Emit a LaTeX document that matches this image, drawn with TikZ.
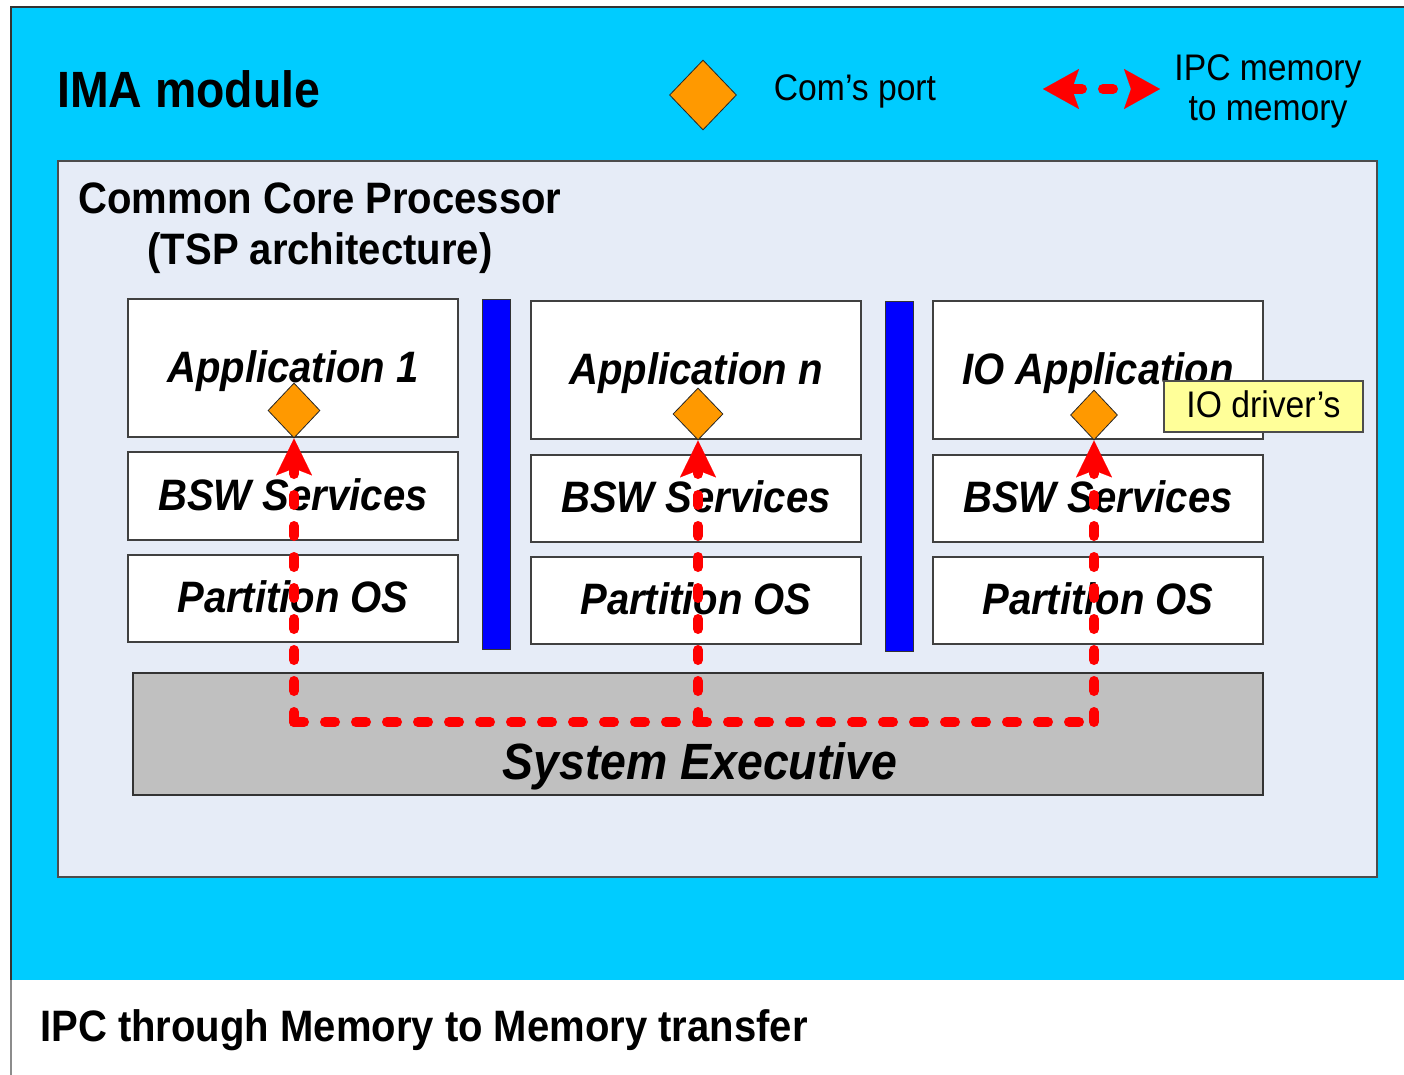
\documentclass[tikz,border=0pt]{standalone}
\usepackage{fontspec}
\setmainfont{Liberation Sans}[FakeStretch=0.91]
\usetikzlibrary{shapes.geometric,arrows.meta}
\definecolor{imacyan}{HTML}{00CCFF}
\definecolor{corebg}{HTML}{E6ECF7}
\definecolor{partblue}{HTML}{0000FF}
\definecolor{portorange}{HTML}{FF9900}
\definecolor{sysgray}{HTML}{C0C0C0}
\definecolor{drvyellow}{HTML}{FFFF99}
\definecolor{ipcred}{HTML}{FF0000}
\tikzset{
  ipctip/.tip={Stealth[length=37pt,width=36pt,inset=7pt,line width=0.1pt]},
  legtip/.tip={Stealth[length=36pt,width=40pt,inset=7pt,line width=0.1pt]}
}
\begin{document}
\begin{tikzpicture}[x=1pt,y=-1pt,
  swbox/.style={rectangle,draw=black!75,fill=white,line width=1.3pt,inner sep=0pt,
    minimum width=330pt,text height=28pt,text depth=0pt,
    font=\fontsize{44}{52}\selectfont\bfseries\itshape},
  partbar/.style={rectangle,draw=black!80,fill=partblue,line width=0.8pt,inner sep=0pt,minimum width=28pt},
  port/.style={diamond,draw=black!85,fill=portorange,line width=0.8pt,inner sep=0pt},
  ipc/.style={draw=ipcred,line width=10pt,line cap=round,dash pattern=on 10pt off 21pt},
  legendtxt/.style={inner sep=0pt,font=\fontsize{37}{44}\selectfont},
  titletxt/.style={inner sep=0pt,font=\fontsize{44}{52}\selectfont\bfseries}
]
\useasboundingbox (0,0) rectangle (1404,1075);
\fill[white] (0,0) rectangle (1404,1075);
% IMA module frame
\fill[imacyan] (11,7) rectangle (1420,980);
\draw[black!80,line width=1.2pt] (11,980) -- (11,7) -- (1420,7);
\draw[black!45,line width=1.2pt] (11,980) -- (11,1075);
\node[anchor=base west,inner sep=0pt,font=\fontsize{51}{60}\selectfont\bfseries] (ima) at (57,108) {IMA module};
% legend
\node[port,minimum width=67pt,minimum height=70pt] (lport) at (703,95) {};
\node[legendtxt,anchor=base] (lporttxt) at (855,101) {Com’s port};
\coordinate (la) at (1043,89);
\coordinate (lb) at (1160,89);
\draw[ipc,{legtip}-{legtip}] (la) -- (lb);
\node[legendtxt,anchor=base] (lipc1) at (1268,81) {IPC memory};
\node[legendtxt,anchor=base] (lipc2) at (1268,121) {to memory};
% core processor
\node[rectangle,draw=black!70,fill=corebg,line width=1.2pt,inner sep=0pt,
  minimum width=1319pt,minimum height=716pt] (ccp) at (717.5,519) {};
\node[titletxt,anchor=base] (ccp1) at (320,214) {Common Core Processor};
\node[titletxt,anchor=base] (ccp2) at (320,265) {(TSP architecture)};
% partition 1
\node[swbox,minimum height=138pt] (app1) at (293,368) {Application 1};
\node[swbox,minimum height=88pt] (bsw1) at (293,496) {BSW Services};
\node[swbox,minimum height=87pt] (pos1) at (293,598.5) {Partition OS};
% partition n
\node[swbox,minimum height=138pt] (appn) at (696,370) {Application n};
\node[swbox,minimum height=87pt] (bswn) at (696,498.5) {BSW Services};
\node[swbox,minimum height=87pt] (posn) at (696,600.5) {Partition OS};
% IO partition
\node[swbox,minimum height=138pt] (appio) at (1098,370) {IO Application};
\node[swbox,minimum height=87pt] (bswio) at (1098,498.5) {BSW Services};
\node[swbox,minimum height=87pt] (posio) at (1098,600.5) {Partition OS};
% partition separators
\node[partbar,minimum height=350pt] (bar1) at (496.5,474) {};
\node[partbar,minimum height=350pt] (bar2) at (899,476) {};
% system executive
\node[rectangle,draw=black!80,fill=sysgray,line width=1.3pt,inner sep=0pt,
  minimum width=1130pt,minimum height=122pt] (sysex) at (698,734) {};
\node[anchor=base,inner sep=0pt,font=\fontsize{51}{60}\selectfont\bfseries\itshape] (sysextxt) at (700,779) {System Executive};
% IO driver label
\node[rectangle,draw=black!70,fill=drvyellow,line width=1.2pt,inner sep=0pt,
  minimum width=199pt,minimum height=51pt,text height=22pt,text depth=0pt,
  font=\fontsize{37}{44}\selectfont] (drv) at (1263.5,406.5) {IO driver’s};
% ports
\node[port,minimum width=52pt,minimum height=55pt] (p1) at (294,410.5) {};
\node[port,minimum width=50pt,minimum height=52pt] (pn) at (698,414) {};
\node[port,minimum width=47pt,minimum height=50pt] (pio) at (1094,415) {};
% IPC memory to memory paths
\coordinate (c1) at (294,722);
\coordinate (c2) at (698,722);
\coordinate (c3) at (1094,722);
\draw[ipc] (c1) -- (c3);
\draw[ipc,-{ipctip}] (c1) -- (p1.south);
\draw[ipc,-{ipctip}] (c2) -- (pn.south);
\draw[ipc,-{ipctip}] (c3) -- (pio.south);
% caption
\node[titletxt,anchor=base west] (cap) at (40,1041) {IPC through Memory to Memory transfer};
\end{tikzpicture}
\end{document}
